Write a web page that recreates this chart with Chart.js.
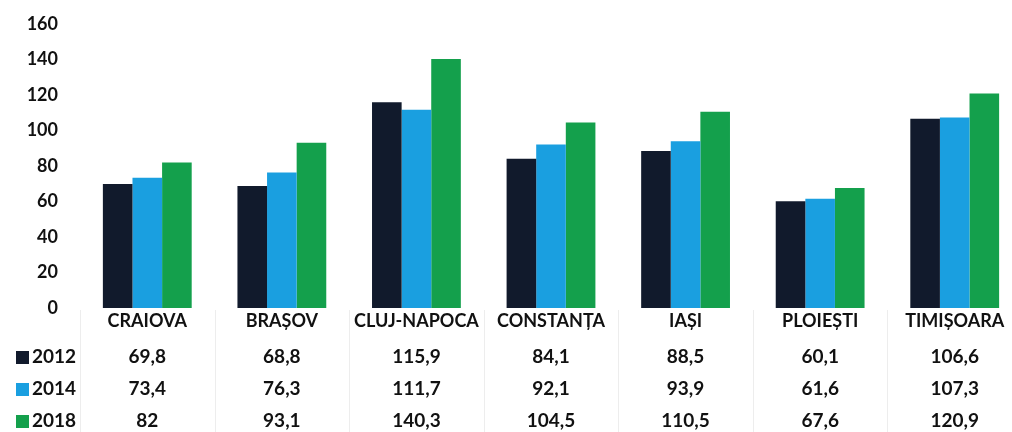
<!DOCTYPE html>
<html>
<head>
<meta charset="utf-8">
<script src="https://cdn.jsdelivr.net/npm/chart.js@4.4.1/dist/chart.umd.min.js"></script>
<style>
  html,body{margin:0;padding:0;background:#fff;overflow:hidden;}
  #wrap{width:1012px;height:432px;position:relative;overflow:hidden;}
</style>
</head>
<body>
<div id="wrap"><canvas id="c" width="1022" height="432"></canvas></div>
<script>
const categories = ["CRAIOVA", "BRAȘOV", "CLUJ-NAPOCA", "CONSTANȚA", "IAȘI", "PLOIEȘTI", "TIMIȘOARA"];
const seriesNames = ["2012", "2014", "2018"];
const values2012 = [69.8, 68.8, 115.9, 84.1, 88.5, 60.1, 106.6];
const values2014 = [73.4, 76.3, 111.7, 92.1, 93.9, 61.6, 107.3];
const values2018 = [82, 93.1, 140.3, 104.5, 110.5, 67.6, 120.9];
const yTicks = [0, 20, 40, 60, 80, 100, 120, 140, 160];
const colors = ["#111a2c", "#1a9fe0", "#14a04c"];

const FONT = "Lato, 'Open Sans', sans-serif";
const allSeries = [values2012, values2014, values2018];

function fmt(v) { return String(v).replace('.', ','); }

const tablePlugin = {
  id: 'dataTable',
  afterDraw(chart) {
    const ctx = chart.ctx;
    const x = chart.scales.x;
    const area = chart.chartArea;
    ctx.save();
    ctx.strokeStyle = '#ededed';
    ctx.lineWidth = 1;
    for (let i = 0; i <= categories.length; i++) {
      const px = Math.round(area.left + (area.right - area.left) * i / categories.length) + 0.5;
      ctx.beginPath();
      ctx.moveTo(px, area.bottom + 2);
      ctx.lineTo(px, 432);
      ctx.stroke();
    }
    const rowY = [357, 389, 421];
    ctx.font = "bold 19px " + FONT;
    ctx.textBaseline = 'middle';
    allSeries.forEach((vals, s) => {
      const y = rowY[s];
      ctx.fillStyle = colors[s];
      ctx.fillRect(16, y - 6, 13, 13);
      ctx.fillStyle = '#111';
      ctx.textAlign = 'left';
      ctx.fillText(seriesNames[s], 32, y);
      ctx.textAlign = 'center';
      vals.forEach((v, i) => {
        ctx.fillText(fmt(v), x.getPixelForValue(i), y);
      });
    });
    ctx.restore();
  }
};

new Chart(document.getElementById('c'), {
  type: 'bar',
  data: {
    labels: categories,
    datasets: seriesNames.map((n, i) => ({
      label: n,
      data: allSeries[i],
      backgroundColor: colors[i],
      borderWidth: 0,
      barPercentage: 1.0,
      categoryPercentage: 0.66
    }))
  },
  options: {
    responsive: false,
    animation: false,
    layout: { padding: { top: 0, right: 0, left: 0, bottom: 0 } },
    plugins: { legend: { display: false }, tooltip: { enabled: false } },
    scales: {
      x: {
        grid: { display: false, drawTicks: false },
        border: { display: false },
        ticks: {
          color: '#111',
          font: { family: FONT, size: 18, weight: 'bold' },
          padding: 2,
          maxRotation: 0,
          autoSkip: false
        },
        afterFit(scale) { scale.height = 124; }
      },
      y: {
        min: 0,
        max: 160,
        afterBuildTicks(scale) { scale.ticks = yTicks.map(v => ({ value: v })); },
        grid: { display: false, drawTicks: false },
        border: { display: false },
        ticks: {
          color: '#111',
          font: { family: FONT, size: 18, weight: 'bold' },
          padding: 22
        },
        afterFit(scale) { scale.width = 80; scale.paddingTop = 24; }
      }
    }
  },
  plugins: [tablePlugin]
});
</script>
</body>
</html>
